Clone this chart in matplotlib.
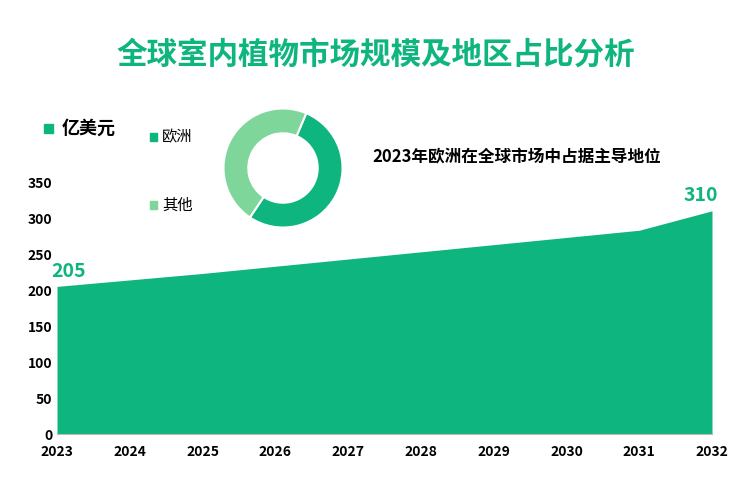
import matplotlib.pyplot as plt

plt.rcParams['font.family'] = ['Noto Sans CJK SC']

years = ['2023', '2024', '2025', '2026', '2027', '2028', '2029', '2030', '2031', '2032']
values = [205, 214, 223, 233, 243, 253, 263, 273, 283, 310]
yticks = [0, 50, 100, 150, 200, 250, 300, 350]
share_labels = ['欧洲', '其他']
shares = [53, 47]
dark, light = '#0fb57e', '#7fd69b'

fig = plt.figure(figsize=(7.52, 4.93), dpi=100)
ax = fig.add_axes([57/752, 1-434/493, 655/752, 252/493])
x = range(len(years))
ax.fill_between(x, values, 0, color=dark, lw=0)
ax.set_xlim(0, len(years)-1)
ax.set_ylim(0, 350)
ax.set_xticks(list(x))
ax.set_xticklabels(years, fontsize=10, fontweight='bold')
ax.set_yticks(yticks)
ax.tick_params(axis='y', labelsize=10, length=0)
ax.tick_params(axis='x', length=0, pad=8)
for lbl in ax.get_yticklabels():
    lbl.set_fontweight('bold')
for s in ['top', 'right', 'left']:
    ax.spines[s].set_visible(False)
ax.spines['bottom'].set_color('#bbbbbb')
ax.annotate(str(values[0]), (0, values[0]), xytext=(8, 4), textcoords='offset points',
            color=dark, fontsize=14, fontweight='bold', ha='center', va='bottom')
ax.annotate(str(values[-1]), (len(years)-1, values[-1]), xytext=(-8, 4), textcoords='offset points',
            color=dark, fontsize=14, fontweight='bold', ha='center', va='bottom')

fig.text(0.5, 1-55/493, '全球室内植物市场规模及地区占比分析', ha='center', va='center',
         fontsize=22, fontweight='bold', color=dark)


def square(xc, yc, size, color):
    fig.patches.append(plt.Rectangle((xc/752, 1-(yc+size/2)/493), size/752, size/493,
                                     transform=fig.transFigure, color=color))


square(44, 128, 9, dark)
fig.text(62/752, 1-128/493, '亿美元', fontsize=13, fontweight='bold', va='center')
square(150, 137, 7, dark)
fig.text(162/752, 1-137/493, share_labels[0], fontsize=11, va='center')
square(150, 205, 7, light)
fig.text(162/752, 1-205/493, share_labels[1], fontsize=11, va='center')
fig.text(372/752, 1-157/493, '2023年欧洲在全球市场中占据主导地位', fontsize=12, fontweight='bold', va='center')

pax = fig.add_axes([(283-62)/752, 1-(168+62)/493, 124/752, 124/493])
pax.pie(shares, colors=[dark, light], startangle=67, counterclock=False, radius=1.2,
        wedgeprops=dict(width=0.5, edgecolor='white', linewidth=1.5))
pax.set_aspect('equal')

fig.savefig('out.png')
